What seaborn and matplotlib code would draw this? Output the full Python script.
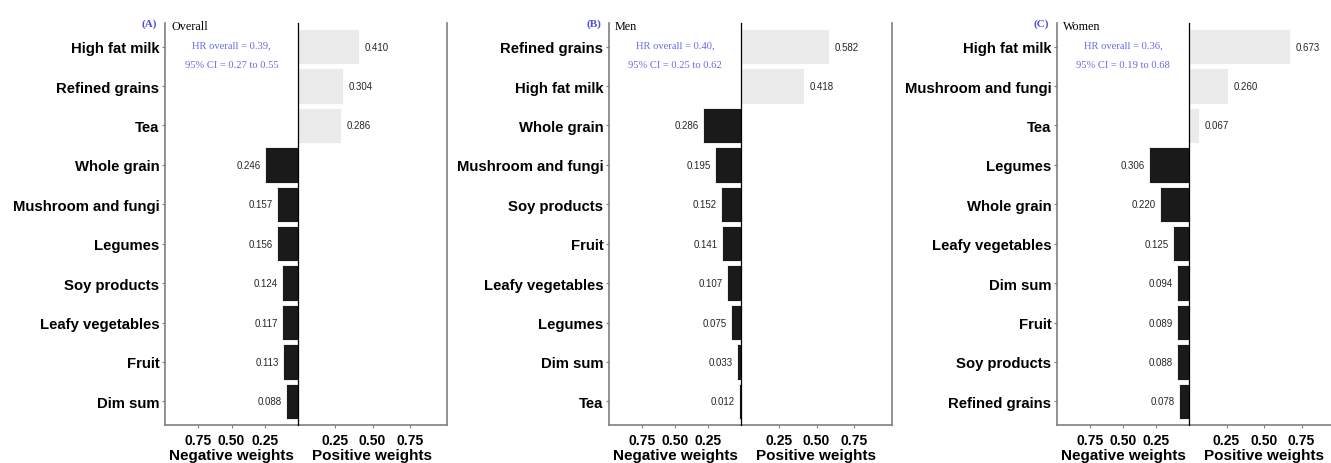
import matplotlib
matplotlib.use('Agg')
import matplotlib.pyplot as plt
import seaborn as sns
import pandas as pd

sns.set_theme(style='white')
plt.rcParams['font.family'] = ['Liberation Sans', 'DejaVu Sans']

# ---------------- data ----------------
panel_tags = ['(A)', '(B)', '(C)']
panel_titles = ['Overall', 'Men', 'Women']
hr_line1 = ['HR overall = 0.39,', 'HR overall = 0.40,', 'HR overall = 0.36,']
hr_line2 = ['95% CI = 0.27 to 0.55', '95% CI = 0.25 to 0.62', '95% CI = 0.19 to 0.68']

foods_overall = ['High fat milk', 'Refined grains', 'Tea', 'Whole grain',
                 'Mushroom and fungi', 'Legumes', 'Soy products',
                 'Leafy vegetables', 'Fruit', 'Dim sum']
weights_overall = [0.410, 0.304, 0.286, 0.246, 0.157, 0.156, 0.124, 0.117, 0.113, 0.088]
signs_overall = ['pos', 'pos', 'pos', 'neg', 'neg', 'neg', 'neg', 'neg', 'neg', 'neg']

foods_men = ['Refined grains', 'High fat milk', 'Whole grain', 'Mushroom and fungi',
             'Soy products', 'Fruit', 'Leafy vegetables', 'Legumes', 'Dim sum', 'Tea']
weights_men = [0.582, 0.418, 0.286, 0.195, 0.152, 0.141, 0.107, 0.075, 0.033, 0.012]
signs_men = ['pos', 'pos', 'neg', 'neg', 'neg', 'neg', 'neg', 'neg', 'neg', 'neg']

foods_women = ['High fat milk', 'Mushroom and fungi', 'Tea', 'Legumes', 'Whole grain',
               'Leafy vegetables', 'Dim sum', 'Fruit', 'Soy products', 'Refined grains']
weights_women = [0.673, 0.260, 0.067, 0.306, 0.220, 0.125, 0.094, 0.089, 0.088, 0.078]
signs_women = ['pos', 'pos', 'pos', 'neg', 'neg', 'neg', 'neg', 'neg', 'neg', 'neg']

x_ticks = [0.25, 0.50, 0.75]

panels = [
    (foods_overall, weights_overall, signs_overall),
    (foods_men, weights_men, signs_men),
    (foods_women, weights_women, signs_women),
]

# ---------------- layout (pixels) ----------------
W, H = 1331, 464
DPI = 100
fig = plt.figure(figsize=(W / DPI, H / DPI), dpi=DPI)
fig.patch.set_facecolor('white')

top_px, bot_px = 24, 426
lefts = [165, 609, 1057]
centers = [298, 741, 1189]
rights = [447, 892, 1339]

GRAY = '#7f7f7f'
DARK = '#1a1a1a'
LIGHT = '#ebebeb'
TAG_BLUE = '#4f4fd8'
HR_BLUE = '#6a6ae8'


def fx(px):
    return px / W


def fy(py):
    return 1 - py / H


for i, (foods, weights, signs) in enumerate(panels):
    df = pd.DataFrame({'food': foods, 'weight': weights, 'sign': signs})
    l, c, r = lefts[i], centers[i], rights[i]
    b = fy(bot_px)
    h = (bot_px - top_px) / H
    ax_n = fig.add_axes([fx(l), b, fx(c - l), h])
    ax_p = fig.add_axes([fx(c), b, fx(r - c), h], sharey=ax_n)

    neg = df[df['sign'] == 'neg']
    pos = df[df['sign'] == 'pos']
    sns.barplot(data=neg, x='weight', y='food', order=foods, orient='h',
                color=DARK, saturation=1, width=0.9, edgecolor='white',
                linewidth=0.6, ax=ax_n)
    sns.barplot(data=pos, x='weight', y='food', order=foods, orient='h',
                color=LIGHT, saturation=1, width=0.9, edgecolor='white',
                linewidth=0.6, ax=ax_p)

    n = len(foods)
    ax_n.set_ylim(n - 1 + 0.6, -0.6)
    ax_n.set_xlim(1.0, 0.0)
    ax_p.set_xlim(0.0, 1.0)

    for ax in (ax_n, ax_p):
        ax.set_facecolor('none')
        ax.set_xticks(x_ticks)
        ax.set_xticklabels([f'{t:.2f}' for t in x_ticks], fontsize=10,
                           fontweight='bold', color='black')
        ax.tick_params(axis='x', length=2.5, width=0.8, color=GRAY, pad=3,
                       bottom=True)
        ax.spines['top'].set_visible(False)
        ax.spines['bottom'].set_color(GRAY)
        ax.spines['bottom'].set_linewidth(1.2)
        ax.grid(False)

    ax_n.set_xlabel('Negative weights', fontsize=11, fontweight='bold',
                    color='black', labelpad=1)
    ax_p.set_xlabel('Positive weights', fontsize=11, fontweight='bold',
                    color='black', labelpad=1)
    ax_n.set_ylabel('')
    ax_p.set_ylabel('')

    ax_n.spines['left'].set_color(GRAY)
    ax_n.spines['left'].set_linewidth(1.2)
    ax_n.spines['right'].set_visible(False)
    ax_p.spines['left'].set_color('black')
    ax_p.spines['left'].set_linewidth(0.9)
    ax_p.spines['left'].set_zorder(5)
    ax_p.spines['right'].set_color(GRAY)
    ax_p.spines['right'].set_linewidth(1.2)

    ax_n.tick_params(axis='y', length=2.5, width=0.8, color=GRAY, pad=1.5,
                     left=True, labelsize=10.7)
    for lab in ax_n.get_yticklabels():
        lab.set_fontweight('bold')
        lab.set_color('black')
    ax_p.tick_params(axis='y', left=False, labelleft=False)

    # value labels
    for cont, ax, off in ((ax_n.containers[0], ax_n, 3),
                          (ax_p.containers[0], ax_p, 4)):
        labels = []
        for bar in cont:
            w = bar.get_width()
            labels.append('' if (w != w or w == 0) else f'{w:.3f}')
        ax.bar_label(cont, labels=labels, padding=off, fontsize=7,
                     color='#262626')

    # panel tag, title, HR text
    fig.text(fx(l - 8), fy(24), panel_tags[i], ha='right', va='center',
             fontsize=8, fontweight='bold', color=TAG_BLUE,
             family=['Liberation Serif', 'DejaVu Serif'])
    fig.text(fx(l + 6), fy(27), panel_titles[i], ha='left', va='center',
             fontsize=8.7, color='black',
             family=['Liberation Serif', 'DejaVu Serif'])
    mid = (l + c) / 2
    fig.text(fx(mid), fy(46), hr_line1[i], ha='center', va='center',
             fontsize=7.6, color=HR_BLUE,
             family=['Liberation Serif', 'DejaVu Serif'])
    fig.text(fx(mid), fy(65), hr_line2[i], ha='center', va='center',
             fontsize=7.6, color=HR_BLUE,
             family=['Liberation Serif', 'DejaVu Serif'])

fig.savefig('out.png', dpi=DPI, facecolor='white')
